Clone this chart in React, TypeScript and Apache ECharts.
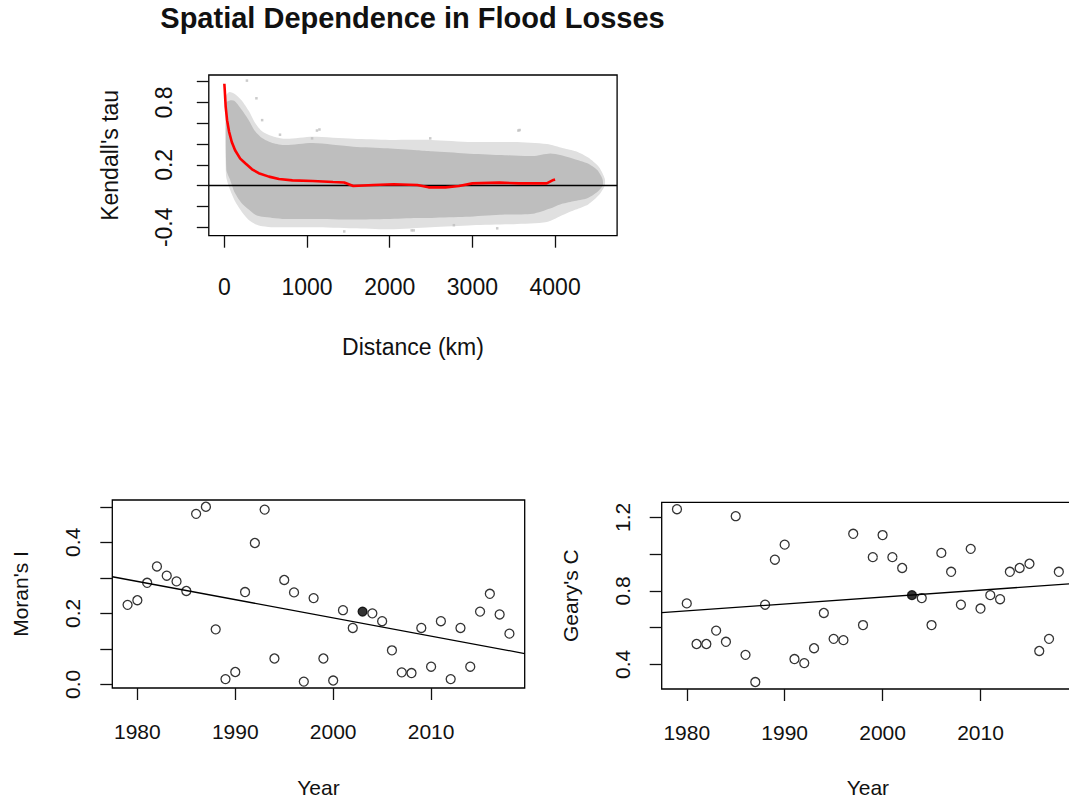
import React, { useEffect, useRef } from 'react';
import * as echarts from 'echarts';

// ---------- Top panel: Kendall's tau vs distance ----------
const distTicks = [0, 1000, 2000, 3000, 4000];
const tauTicks = [-0.4, -0.2, 0.0, 0.2, 0.4, 0.6, 0.8, 1.0];
const tauTickLabels = [-0.4, 0.2, 0.8];

// binned mean (red line)
const redDist = [0, 5, 16, 33, 57, 90, 130, 192, 253, 335, 416, 539, 661, 824, 1069, 1314, 1450, 1559, 1803, 2048, 2334, 2470, 2674, 2837, 3000, 3326, 3571, 3898, 3980, 4000];
const redTau = [0.98, 0.92, 0.76, 0.63, 0.52, 0.42, 0.34, 0.26, 0.215, 0.157, 0.12, 0.087, 0.064, 0.051, 0.045, 0.035, 0.03, -0.003, 0.006, 0.013, 0.006, -0.016, -0.016, -0.003, 0.022, 0.029, 0.022, 0.022, 0.055, 0.06];

// envelope of the dense pair cloud
const coreDist = [25, 70, 130, 210, 295, 375, 460, 580, 740, 1070, 1560, 1970, 2330, 2510, 2920, 3330, 3730, 3940, 4060, 4220, 4390, 4510, 4575];
const coreUpper = [0.80, 0.82, 0.81, 0.73, 0.63, 0.52, 0.455, 0.41, 0.39, 0.41, 0.375, 0.36, 0.34, 0.33, 0.31, 0.295, 0.285, 0.31, 0.295, 0.26, 0.215, 0.15, 0.06];
const coreLower = [0.15, 0.055, -0.074, -0.17, -0.23, -0.28, -0.30, -0.31, -0.32, -0.32, -0.325, -0.32, -0.31, -0.31, -0.30, -0.28, -0.27, -0.22, -0.18, -0.15, -0.12, -0.06, 0.0];

// envelope of the sparse outer points
const outerDist = [20, 60, 130, 210, 295, 375, 460, 600, 750, 1070, 1560, 2000, 2500, 3000, 3500, 3900, 4100, 4250, 4400, 4530, 4600];
const outerUpper = [0.86, 0.90, 0.88, 0.82, 0.72, 0.60, 0.52, 0.47, 0.45, 0.47, 0.45, 0.44, 0.44, 0.42, 0.42, 0.40, 0.36, 0.33, 0.27, 0.18, 0.07];
const outerLower = [0.10, -0.02, -0.15, -0.25, -0.33, -0.37, -0.39, -0.40, -0.40, -0.40, -0.41, -0.42, -0.40, -0.38, -0.37, -0.35, -0.28, -0.23, -0.18, -0.09, 0.0];

// isolated pairs outside the cloud
const strayDist = [273, 388, 457, 673, 1061, 1120, 1150, 2490, 3556, 3571, 2266, 2290, 2776, 1450, 3300];
const strayTau = [1.01, 0.84, 0.63, 0.49, 0.455, 0.53, 0.54, 0.455, 0.53, 0.535, -0.43, -0.43, -0.38, -0.44, -0.41];

// ---------- Bottom panels ----------
const years = [1979, 1980, 1981, 1982, 1983, 1984, 1985, 1986, 1987, 1988,
  1989, 1990, 1991, 1992, 1993, 1994, 1995, 1996, 1997, 1998,
  1999, 2000, 2001, 2002, 2003, 2004, 2005, 2006, 2007, 2008,
  2009, 2010, 2011, 2012, 2013, 2014, 2015, 2016, 2017, 2018];
const moranI = [0.224, 0.237, 0.286, 0.332, 0.306, 0.290, 0.263, 0.480, 0.500, 0.155,
  0.015, 0.035, 0.260, 0.398, 0.492, 0.073, 0.294, 0.259, 0.008, 0.243,
  0.073, 0.011, 0.209, 0.159, 0.205, 0.200, 0.178, 0.096, 0.034, 0.032,
  0.159, 0.050, 0.178, 0.015, 0.159, 0.050, 0.205, 0.255, 0.197, 0.143];
const gearyC = [1.245, 0.732, 0.511, 0.511, 0.584, 0.523, 1.207, 0.452, 0.304, 0.725,
  0.970, 1.052, 0.429, 0.407, 0.488, 0.680, 0.539, 0.532, 1.111, 0.614,
  0.984, 1.104, 0.984, 0.925, 0.777, 0.761, 0.614, 1.007, 0.904, 0.725,
  1.029, 0.704, 0.777, 0.755, 0.904, 0.925, 0.948, 0.473, 0.539, 0.904];
const highlightYear = 2003;

const yearTicks = [1980, 1990, 2000, 2010];
const moranTicks = [0.0, 0.1, 0.2, 0.3, 0.4, 0.5];
const moranTickLabels = [0.0, 0.2, 0.4];
const gearyTicks = [0.4, 0.6, 0.8, 1.0, 1.2];
const gearyTickLabels = [0.4, 0.8, 1.2];

// fitted trend lines (endpoints read at the plot edges)
const fitYears = [1977.44, 2019.56];
const moranFit = [0.303, 0.087];
const gearyFit = [0.682, 0.840];

const FONT = "'Liberation Sans', Arial, sans-serif";
const INK = '#111';

function band(dist: number[], up: number[], lo: number[], color: string, z: number) {
  return {
    type: 'custom',
    xAxisIndex: 0,
    yAxisIndex: 0,
    silent: true,
    z,
    data: [[dist[0], up[0]]],
    renderItem: (_params: any, api: any) => {
      const pts: number[][] = [];
      for (let i = 0; i < dist.length; i++) pts.push(api.coord([dist[i], up[i]]));
      for (let i = dist.length - 1; i >= 0; i--) pts.push(api.coord([dist[i], lo[i]]));
      return { type: 'polygon', shape: { points: pts, smooth: 0.25 }, style: { fill: color } };
    },
  };
}

function xAxisDef(grid: number, min: number, max: number, ticks: number[], fs: number, margin: number, name: string, nameGap: number) {
  return {
    gridIndex: grid, type: 'value', min, max,
    axisLine: { show: false, onZero: false }, splitLine: { show: false },
    axisTick: { show: true, inside: false, length: 12, customValues: ticks, lineStyle: { color: INK, width: 1.3 } },
    axisLabel: { customValues: ticks, margin, fontSize: fs, fontFamily: FONT, color: INK, formatter: (v: number) => String(v) },
    name, nameLocation: 'middle', nameGap, nameTextStyle: { fontSize: fs, fontFamily: FONT, color: INK },
  };
}

function yAxisDef(grid: number, min: number, max: number, ticks: number[], labels: number[], fs: number, margin: number, name: string, nameGap: number) {
  return {
    gridIndex: grid, type: 'value', min, max,
    axisLine: { show: false, onZero: false }, splitLine: { show: false },
    axisTick: { show: true, inside: false, length: 12, customValues: ticks, lineStyle: { color: INK, width: 1.3 } },
    axisLabel: { customValues: labels, rotate: 90, margin, fontSize: fs, fontFamily: FONT, color: INK, formatter: (v: number) => v.toFixed(1) },
    name, nameLocation: 'middle', nameGap, nameRotate: 90, nameTextStyle: { fontSize: fs, fontFamily: FONT, color: INK },
  };
}

function pointSeries(grid: number, vals: number[]) {
  return {
    type: 'scatter', xAxisIndex: grid, yAxisIndex: grid, symbol: 'circle', symbolSize: 9, z: 3,
    data: years.map((y, i) => ({
      value: [y, vals[i]],
      itemStyle: y === highlightYear
        ? { color: '#000', borderColor: '#000', borderWidth: 1.2 }
        : { color: 'rgba(0,0,0,0)', borderColor: '#000', borderWidth: 1.3 },
    })),
  };
}

function fitSeries(grid: number, vals: number[]) {
  return {
    type: 'line', xAxisIndex: grid, yAxisIndex: grid, symbol: 'none', z: 4,
    lineStyle: { color: '#000', width: 1.3 },
    data: fitYears.map((y, i) => [y, vals[i]]),
  };
}

export default function App() {
  const ref = useRef<HTMLDivElement>(null);
  useEffect(() => {
    if (!ref.current) return;
    const chart = echarts.init(ref.current, undefined, { renderer: 'svg' });
    const boxStyle = { show: true, borderColor: '#000', borderWidth: 1.3, backgroundColor: 'rgba(0,0,0,0)' };
    chart.setOption({
      animation: false,
      backgroundColor: '#fff',
      textStyle: { fontFamily: FONT },
      graphic: [
        {
          type: 'text', x: 412.5, y: 18,
          style: { text: 'Spatial Dependence in Flood Losses', font: `bold 29px ${FONT}`, fill: INK, textAlign: 'center', textVerticalAlign: 'middle' },
        },
      ],
      grid: [
        { left: 208.8, top: 75, width: 408.3, height: 160.7, ...boxStyle },
        { left: 112.3, top: 500, width: 412.4, height: 189.3, ...boxStyle },
        { left: 661.7, top: 502.3, width: 412.4, height: 189.7, ...boxStyle },
      ],
      xAxis: [
        xAxisDef(0, -188, 4750, distTicks, 23, 40, 'Distance (km)', 100),
        xAxisDef(1, fitYears[0], fitYears[1], yearTicks, 21, 33, 'Year', 89),
        xAxisDef(2, fitYears[0], fitYears[1], yearTicks, 21, 33, 'Year', 88),
      ],
      yAxis: [
        yAxisDef(0, -0.481, 1.064, tauTicks, tauTickLabels, 23, 33, "Kendall's tau", 87),
        yAxisDef(1, -0.010, 0.519, moranTicks, moranTickLabels, 21, 29, "Moran's I", 81),
        yAxisDef(2, 0.266, 1.2825, gearyTicks, gearyTickLabels, 21, 29, "Geary's C", 81),
      ],
      series: [
        band(outerDist, outerUpper, outerLower, '#e0e0e0', 1),
        band(coreDist, coreUpper, coreLower, '#bebebe', 2),
        {
          type: 'scatter', xAxisIndex: 0, yAxisIndex: 0, symbol: 'rect', symbolSize: 2.5, z: 2, silent: true,
          itemStyle: { color: '#bebebe' },
          data: strayDist.map((d, i) => [d, strayTau[i]]),
        },
        {
          type: 'line', xAxisIndex: 0, yAxisIndex: 0, symbol: 'none', z: 5,
          lineStyle: { color: '#ff0000', width: 2.6 },
          data: redDist.map((d, i) => [d, redTau[i]]),
          markLine: {
            silent: true, symbol: 'none', label: { show: false },
            lineStyle: { color: '#000', width: 1.3, type: 'solid' },
            data: [{ yAxis: 0 }],
          },
        },
        pointSeries(1, moranI),
        fitSeries(1, moranFit),
        pointSeries(2, gearyC),
        fitSeries(2, gearyFit),
      ],
    });
    return () => chart.dispose();
  }, []);
  return (
    <div style={{ position: 'fixed', left: 0, top: 0, width: 1069, height: 799, overflow: 'hidden', background: '#fff' }}>
      <div ref={ref} style={{ width: 1090, height: 799 }} />
    </div>
  );
}
